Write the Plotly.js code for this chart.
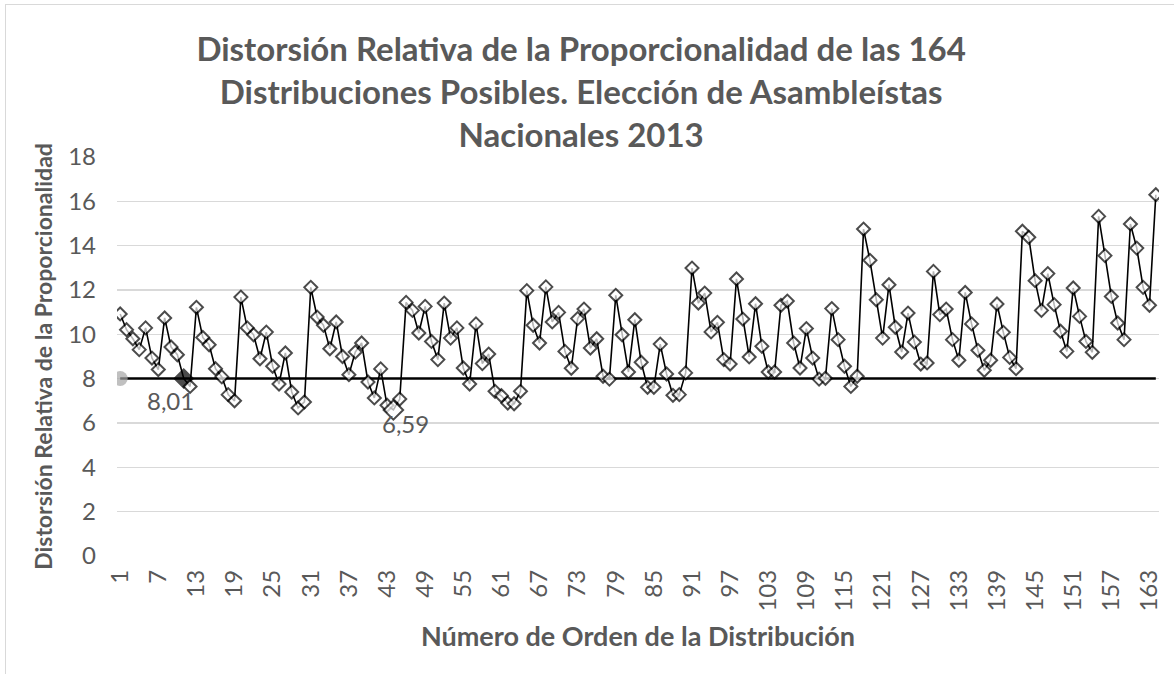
<!DOCTYPE html>
<html>
<head>
<meta charset="utf-8">
<script src="https://cdn.plot.ly/plotly-3.0.1.min.js"></script>
<style>
html,body{margin:0;padding:0;background:#fff;}
#chart{width:1174px;height:674px;position:relative;}
#frame{position:absolute;left:5px;top:4px;width:1180px;height:700px;border-top:1.5px solid #d9d9d9;border-left:1.5px solid #d9d9d9;pointer-events:none;}
</style>
</head>
<body>
<div id="chart"></div>
<div id="frame"></div>
<script>
const titleText = "Distorsión Relativa de la Proporcionalidad de las 164<br>Distribuciones Posibles. Elección de Asambleístas<br>Nacionales 2013";
const xTitle = "Número de Orden de la Distribución";
const yTitle = "Distorsión Relativa de la Proporcionalidad";

const distortion = [
10.92,10.21,9.80,9.31,10.29,8.93,8.41,10.74,9.43,9.08,
8.01,7.65,11.22,9.86,9.53,8.45,8.08,7.28,7.00,11.68,
10.29,9.98,8.90,10.10,8.56,7.76,9.16,7.40,6.68,6.95,
12.12,10.78,10.41,9.35,10.56,9.00,8.18,9.20,9.61,7.85,
7.13,8.44,6.80,6.59,7.08,11.44,11.08,10.06,11.26,9.68,
8.86,11.41,9.83,10.29,8.48,7.76,10.47,8.68,9.11,7.43,
7.23,6.90,6.87,7.43,11.97,10.41,9.61,12.14,10.56,10.99,
9.23,8.47,10.71,11.14,9.38,9.80,8.11,7.98,11.76,9.98,
8.30,10.66,8.74,7.61,7.61,9.56,8.21,7.25,7.28,8.26,
12.99,11.41,11.86,10.11,10.54,8.86,8.66,12.50,10.69,8.98,
11.38,9.46,8.30,8.30,11.31,11.50,9.61,8.48,10.26,8.93,
7.98,8.02,11.16,9.76,8.56,7.65,8.11,14.75,13.34,11.56,
9.83,12.24,10.32,9.20,10.96,9.65,8.66,8.71,12.84,10.89,
11.14,9.76,8.83,11.89,10.47,9.28,8.38,8.83,11.37,10.09,
8.96,8.45,14.65,14.38,12.42,11.08,12.74,11.34,10.14,9.23,
12.09,10.81,9.68,9.19,15.32,13.55,11.71,10.51,9.76,14.98,
13.89,12.12,11.31,16.30
];
const orderNumbers = distortion.map((_, i) => i + 1);
const actualOrder = 11;      // real 2013 distribution
const actualValue = 8.01;
const actualLabel = "8,01";
const minOrder = 44;
const minValue = 6.59;
const minLabel = "6,59";
const tickVals = [1,7,13,19,25,31,37,43,49,55,61,67,73,79,85,91,97,103,109,115,121,127,133,139,145,151,157,163];
const yTicks = [0,2,4,6,8,10,12,14,16,18];

const sizes = orderNumbers.map(n => n === minOrder ? 15 : (n === actualOrder ? 14 : 10));
const fills = orderNumbers.map(n => n === actualOrder ? '#000000' : '#ffffff');

const refLine = {
  x: [orderNumbers[0], orderNumbers[orderNumbers.length - 1]],
  y: [actualValue, actualValue],
  mode: 'lines+markers',
  line: {color: '#000000', width: 2.5},
  marker: {symbol: 'circle', size: [15, 0], color: '#a5a5a5', line: {width: 0}},
  hoverinfo: 'skip',
  showlegend: false
};
const series = {
  x: orderNumbers,
  y: distortion,
  mode: 'lines+markers',
  line: {color: '#000000', width: 1.6},
  marker: {symbol: 'diamond', size: sizes, color: fills, line: {color: '#000000', width: 2}},
  showlegend: false
};

const gray = '#595959';
const layout = {
  width: 1174, height: 674,
  paper_bgcolor: '#ffffff', plot_bgcolor: '#ffffff',
  margin: {l: 117, r: 15, t: 157, b: 118},
  font: {family: 'Lato, "Open Sans", sans-serif', color: gray},
  title: {
    text: titleText,
    font: {family: 'Lato, sans-serif', size: 33, color: gray, weight: 'bold'},
    x: 0.495, xref: 'container', xanchor: 'center',
    y: 1 - 61/674, yref: 'container', yanchor: 'top'
  },
  xaxis: {
    range: [0.5, 164.5],
    tickmode: 'array', tickvals: tickVals, ticktext: tickVals.map(String),
    tickangle: -90,
    tickfont: {size: 24, color: gray},
    showgrid: false, zeroline: false, showline: false,
    ticks: '', ticklabelstandoff: 8,
    title: {text: xTitle, font: {size: 27, color: gray, weight: 'bold'}, standoff: 16}
  },
  yaxis: {
    range: [0, 18],
    tickmode: 'array', tickvals: yTicks,
    tickfont: {size: 24, color: gray},
    showgrid: true, gridcolor: '#d9d9d9', gridwidth: 1.5,
    zeroline: false, showline: false, ticks: '', ticklabelstandoff: 20,
    title: {text: yTitle, font: {size: 23, color: gray, weight: 'bold'}, standoff: 9}
  },
  annotations: [
    {x: actualOrder, y: actualValue, xref: 'x', yref: 'y', text: actualLabel, showarrow: false,
     xshift: -13, yshift: -22, font: {size: 24, color: gray}},
    {x: minOrder, y: minValue, xref: 'x', yref: 'y', text: minLabel, showarrow: false,
     xshift: 12, yshift: -14, font: {size: 24, color: gray}}
  ]
};

Plotly.newPlot('chart', [refLine, series], layout, {displayModeBar: false, staticPlot: true});
</script>
</body>
</html>
